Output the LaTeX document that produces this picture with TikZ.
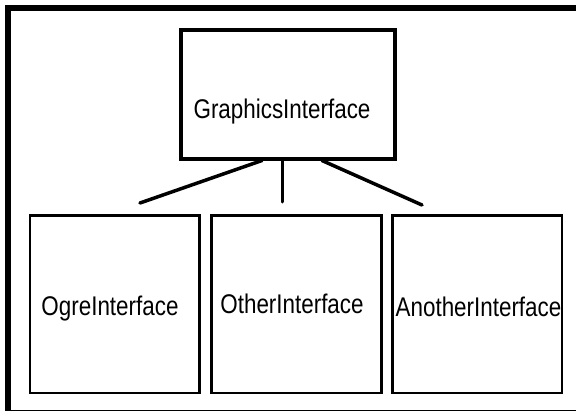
\documentclass[tikz,border=0pt]{standalone}
\usepackage{fontspec}
\setmainfont{Liberation Sans}[FakeStretch=0.83]
\usetikzlibrary{calc}
\tikzset{
  topbox/.style={draw, line width=4pt, minimum width=214.5pt, minimum height=129pt, inner sep=0pt},
  subbox/.style={draw, line width=2.8pt, minimum width=169.5pt, minimum height=177.5pt, inner sep=0pt},
  lbl/.style={inner sep=0pt, anchor=base, font=\fontsize{27}{32}\selectfont},
  link/.style={line width=3.5pt, line cap=round},
  stem/.style={line width=3pt, line cap=round}
}
\begin{document}
\begin{tikzpicture}[x=1pt, y=-1pt]
  \useasboundingbox (0,0) rectangle (576,410);
  \clip (0,0) rectangle (576,410);
  % outer frame, running off the right and bottom edges
  \draw[line width=5.5pt] (8,8) rectangle (592,412.4);

  % boxes
  \node[topbox] (g) at (287.75,94) {};
  \node[subbox] (ogre)  at (114.75,304.25) {};
  \node[subbox] (other) at (296.5,304.25) {};
  \node[subbox] (another) at (477.25,304.25) {};

  % labels
  \node[lbl] (gtxt) at (282,118) {GraphicsInterface};
  \node[lbl] (ogretxt) at (110,315) {OgreInterface};
  \node[lbl] (othertxt) at (292,313) {OtherInterface};
  \node[lbl] (anothertxt) at (478.5,316) {AnotherInterface};

  % free ends of the connectors
  \coordinate (e1) at (140,203);
  \coordinate (e2) at (282,202);
  \coordinate (e3) at (422,205);

  \draw[link] ([xshift=-25.75pt]g.south) -- (e1);
  \draw[stem] ([xshift=-5.75pt]g.south) -- (e2);
  \draw[link] ([xshift=34.25pt]g.south) -- (e3);
\end{tikzpicture}
\end{document}
